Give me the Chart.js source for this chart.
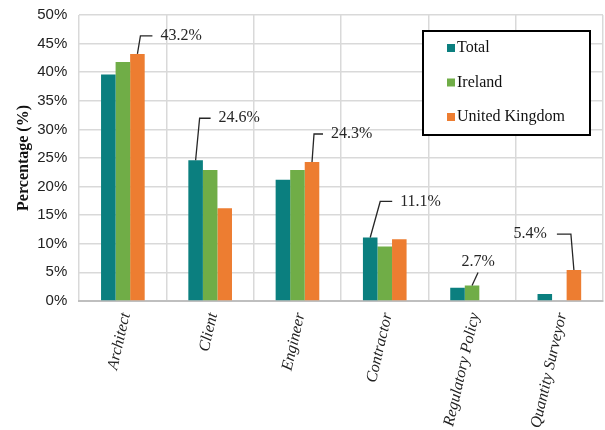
<!DOCTYPE html>
<html>
<head>
<meta charset="utf-8">
<script src="https://cdn.jsdelivr.net/npm/chart.js@4.4.1/dist/chart.umd.min.js"></script>
<style>
html,body{margin:0;padding:0;background:#fff;}
#wrap{width:605px;height:430px;position:relative;}
</style>
</head>
<body>
<div id="wrap"><canvas id="c"></canvas></div>
<script>
const categories = ["Architect","Client","Engineer","Contractor","Regulatory Policy","Quantity Surveyor"];
const seriesNames = ["Total","Ireland","United Kingdom"];
const totalValues = [39.6, 24.6, 21.2, 11.1, 2.3, 1.2];
const irelandValues = [41.8, 22.9, 22.9, 9.5, 2.7, 0];
const ukValues = [43.2, 16.2, 24.3, 10.8, 0, 5.4];
const seriesColors = ["#0b7f7f","#70ad47","#ed7d31"];
const yTicks = [0,5,10,15,20,25,30,35,40,45,50];

// callouts: [datasetIndex, categoryIndex]
const callouts = [
  {ds:2, cat:0, ex:3, ey:-18, hx:12, align:"left"},
  {ds:0, cat:1, ex:4, ey:-42, hx:11, align:"left"},
  {ds:2, cat:2, ex:2, ey:-28, hx:9,  align:"left"},
  {ds:0, cat:3, ex:10,ey:-36, hx:12, align:"left"},
  {ds:1, cat:4, ex:6, ey:-13, hx:0,  align:"top"},
  {ds:2, cat:5, ex:-3,ey:-36, hx:-14,align:"right"}
];

const calloutPlugin = {
  id:"callouts",
  afterDatasetsDraw(chart){
    const ctx = chart.ctx;
    ctx.save();
    ctx.strokeStyle = "#262626";
    ctx.lineWidth = 1.3;
    ctx.fillStyle = "#262626";
    ctx.font = "16px 'Liberation Serif', serif";
    callouts.forEach(c=>{
      const bar = chart.getDatasetMeta(c.ds).data[c.cat];
      const v = chart.data.datasets[c.ds].data[c.cat];
      const x0 = bar.x, y0 = bar.y;
      const x1 = x0 + c.ex, y1 = y0 + c.ey;
      const x2 = x1 + c.hx;
      ctx.beginPath();
      ctx.moveTo(x0,y0);
      ctx.lineTo(x1,y1);
      if (c.hx!==0) ctx.lineTo(x2,y1);
      ctx.stroke();
      const txt = v.toFixed(1)+"%";
      if (c.align==="left"){
        ctx.textAlign="left"; ctx.textBaseline="middle";
        ctx.fillText(txt, x2+8, y1);
      } else if (c.align==="right"){
        ctx.textAlign="right"; ctx.textBaseline="middle";
        ctx.fillText(txt, x2-10, y1);
      } else {
        ctx.textAlign="center"; ctx.textBaseline="bottom";
        ctx.fillText(txt, x1, y1-3);
      }
    });
    ctx.restore();
  }
};

const legendPlugin = {
  id:"boxLegend",
  afterDraw(chart){
    const ctx = chart.ctx;
    const area = chart.chartArea;
    const bx = area.right - 180, by = area.top + 16, bw = 167, bh = 104;
    ctx.save();
    ctx.fillStyle = "#fff";
    ctx.fillRect(bx,by,bw,bh);
    ctx.strokeStyle = "#000";
    ctx.lineWidth = 2;
    ctx.strokeRect(bx,by,bw,bh);
    ctx.font = "16px 'Liberation Serif', serif";
    ctx.textBaseline = "middle";
    ctx.textAlign = "left";
    chart.data.datasets.forEach((d,i)=>{
      const yy = by + 17 + i*34.5;
      ctx.fillStyle = d.backgroundColor;
      ctx.fillRect(bx+24, yy-4, 8, 8);
      ctx.fillStyle = "#111";
      ctx.fillText(d.label, bx+34, yy);
    });
    ctx.restore();
  }
};

new Chart(document.getElementById("c"), {
  type:"bar",
  data:{
    labels:categories,
    datasets:[
      {label:seriesNames[0], data:totalValues, backgroundColor:seriesColors[0]},
      {label:seriesNames[1], data:irelandValues, backgroundColor:seriesColors[1]},
      {label:seriesNames[2], data:ukValues, backgroundColor:seriesColors[2]}
    ]
  },
  options:{
    responsive:true,
    maintainAspectRatio:false,
    animation:false,
    layout:{padding:{top:1,right:2,left:4,bottom:-10}},
    datasets:{bar:{categoryPercentage:0.5, barPercentage:1.0}},
    plugins:{legend:{display:false}, tooltip:{enabled:false}},
    scales:{
      x:{
        grid:{color:"#d9d9d9", lineWidth:1.5, offset:true, drawTicks:false},
        border:{color:"#bfbfbf", width:2},
        ticks:{
          color:"#222", maxRotation:77, minRotation:77, padding:10, labelOffset:3,
          font:{family:"'Liberation Serif', serif", size:16, style:"italic"}
        }
      },
      y:{
        min:0, max:50,
        afterBuildTicks(axis){ axis.ticks = yTicks.map(v=>({value:v})); },
        afterFit(axis){ axis.width -= 8; },
        grid:{color:"#d9d9d9", lineWidth:1.5, drawTicks:false},
        border:{display:false},
        ticks:{
          color:"#222", padding:12,
          font:{family:"'Liberation Sans', Arial, sans-serif", size:15, lineHeight:0.4},
          callback:v=>v+"%"
        },
        title:{
          display:true, text:"Percentage (%)", color:"#111",
          font:{family:"'Liberation Serif', serif", size:16, weight:"bold"},
          padding:{top:10,bottom:0}
        }
      }
    }
  },
  plugins:[calloutPlugin, legendPlugin]
});
</script>
</body>
</html>
